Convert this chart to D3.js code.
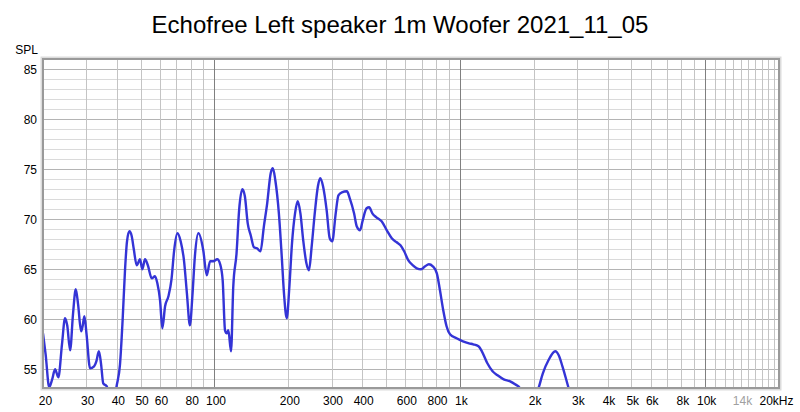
<!DOCTYPE html>
<html><head><meta charset="utf-8">
<script src="https://cdn.jsdelivr.net/npm/d3@7"></script>
<style>
html,body{margin:0;padding:0;background:#fff;}
svg{display:block;font-family:"Liberation Sans",Arial,sans-serif;}
</style></head>
<body>
<svg id="chart" width="800" height="412"></svg>
<script>
const titleText = "Echofree Left speaker 1m Woofer 2021_11_05";
const yAxisLabel = "SPL";
const freqs = [20,20.5,21.2,21.8,22.4,23.1,23.9,24.6,25.1,25.8,26.5,27.2,27.8,28.6,29.0,29.5,30.1,31.1,32.3,33.0,33.8,34.5,35.2,36.4,37.5,38.8,39.9,41.2,42.2,43.2,44.0,45.0,46.0,46.9,48.2,49.7,50.8,52.1,53.5,55.5,57.2,58.5,60.0,61.3,62.9,64.9,66.8,68.5,70.6,72.8,75.1,77.2,79.4,81.4,83.2,86.0,90.0,93.0,96.0,99.0,102.6,105.5,108,110.4,112.3,113.9,116.8,119.3,123,126,129.9,133,136.6,140.5,144.8,149,154,159,164,169.5,173,177,183,188,192,197,202,207,213,218.4,224,230,237,242.7,249,257,264,269.8,277,286.6,295,302,312,320,330.7,346.5,356,370.6,380,392,402,416.8,427,440,457,480,504,528,553,573,593,617,644,668,695,722,748,776,806,830,856,883,912,970,1030,1090,1134,1192,1230,1295,1360,1425,1510,1603,1680,1760,1850,1950,2092,2180,2298,2450,2530,2620,2778,2950,3500,5000];
const spl = [58.6,56.5,53.2,54.0,55.0,54.2,57.5,60.1,59.4,56.9,60.5,63.0,61.5,58.8,59.3,60.3,58.5,55.1,55.3,55.8,56.8,55.5,53.6,53.3,51.5,51.5,53.3,55.5,59.8,65.0,67.8,68.8,68.3,67.0,65.4,66.0,65.0,66.0,65.4,64.1,64.3,63.6,61.9,59.1,61.3,62.3,64.0,66.9,68.6,67.8,65.9,62.6,59.4,62.6,66.3,68.6,66.9,64.4,65.8,65.8,66.0,65.5,63.9,58.9,58.6,58.9,56.8,63.3,66.6,70.9,73.0,72.3,69.6,68.4,67.2,67.1,66.8,69.3,71.6,74.6,75.1,73.9,70.6,66.3,62.6,60.1,63.3,67.6,70.6,71.8,70.6,67.9,65.6,64.9,67.3,70.9,73.3,74.1,73.3,70.9,68.1,67.8,70.6,72.4,72.7,72.8,72.1,70.6,69.3,68.9,69.9,71.1,71.2,70.6,70.2,69.8,68.9,68.1,67.7,67.4,66.8,65.9,65.4,65.1,65.0,65.3,65.5,65.3,64.6,62.9,60.9,59.3,58.5,58.1,57.8,57.6,57.5,57.3,56.8,55.6,54.8,54.4,54.0,53.8,53.5,53.1,51.5,51.5,53.1,54.6,55.9,56.8,56.4,55.3,53.1,51.0,49.0,48.0];
const xTickValues = [20,30,40,50,60,80,100,200,300,400,600,800,1000,2000,3000,4000,5000,6000,8000,10000,14000,20000];
const xTickLabels = ["20","30","40","50","60","80","100","200","300","400","600","800","1k","2k","3k","4k","5k","6k","8k","10k","14k","20kHz"];
const yTickValues = [55,60,65,70,75,80,85];

const svg = d3.select("#chart");
const L = 43, R = 779, T = 59, B = 388;
const x = d3.scaleLog().domain([20,20000]).range([L,R]);
const y = d3.scaleLinear().domain([53.13,86.03]).range([B,T]);

// title
svg.append("text").attr("x",400).attr("y",33).attr("text-anchor","middle")
  .attr("font-size",24).attr("fill","#000").text(titleText);

// grid
const g = svg.append("g");
const vLines = [];
[10,100,1000].forEach(d=>{ for(let k=1;k<10;k++){ const f=d*k; if(f>=20 && f<=20000) vLines.push(f);} });
for(let k=10;k<=20;k++) vLines.push(k*1000);
const hLines = d3.range(54,86,1);
g.selectAll("line.h").data(hLines).join("line")
  .attr("x1",L).attr("x2",R).attr("y1",d=>Math.round(y(d))+0.5).attr("y2",d=>Math.round(y(d))+0.5)
  .attr("stroke",d=>d%5===0?"#b4b4b4":"#dadada").attr("stroke-width",1);
g.selectAll("line.v").data(vLines).join("line")
  .attr("y1",T).attr("y2",B).attr("x1",d=>Math.round(x(d))+0.5).attr("x2",d=>Math.round(x(d))+0.5)
  .attr("stroke",d=>[100,1000,10000].includes(d)?"#808080":"#c4c4c4").attr("stroke-width",1);

// curve
svg.append("clipPath").attr("id","clip").append("rect").attr("x",L).attr("y",T).attr("width",R-L).attr("height",B-T);
const pts = freqs.map((f,i)=>[x(f),y(spl[i])]);
svg.append("path").attr("clip-path","url(#clip)")
  .attr("d", d3.line().curve(d3.curveMonotoneX)(pts))
  .attr("fill","none").attr("stroke","#3434d6").attr("stroke-width",2.4).attr("stroke-linejoin","round");

// frame
svg.append("rect").attr("x",L-1.5).attr("y",T-1.5).attr("width",R-L+3).attr("height",B-T+3)
  .attr("fill","none").attr("stroke","#dcdcdc").attr("stroke-width",2);
svg.append("rect").attr("x",L).attr("y",T).attr("width",R-L).attr("height",B-T)
  .attr("fill","none").attr("stroke","#9a9a9a").attr("stroke-width",2);

// x tick labels
svg.append("g").selectAll("text").data(xTickValues).join("text")
  .attr("x",(d,i)=> i===0 ? x(d)+2.5 : (i===xTickValues.length-1 ? x(d)-2.5 : x(d)+1.5))
  .attr("y",405).attr("text-anchor","middle").attr("font-size",12)
  .attr("fill",d=>d===14000?"#a0a0a0":"#000")
  .text((d,i)=>xTickLabels[i]);

// y tick labels
svg.append("g").selectAll("text").data(yTickValues).join("text")
  .attr("x",37).attr("y",d=>y(d)+4.5).attr("text-anchor","end").attr("font-size",12).attr("fill","#000")
  .text(d=>d);
svg.append("text").attr("x",38).attr("y",54).attr("text-anchor","end").attr("font-size",12).attr("fill","#000").text(yAxisLabel);
</script>
</body></html>
